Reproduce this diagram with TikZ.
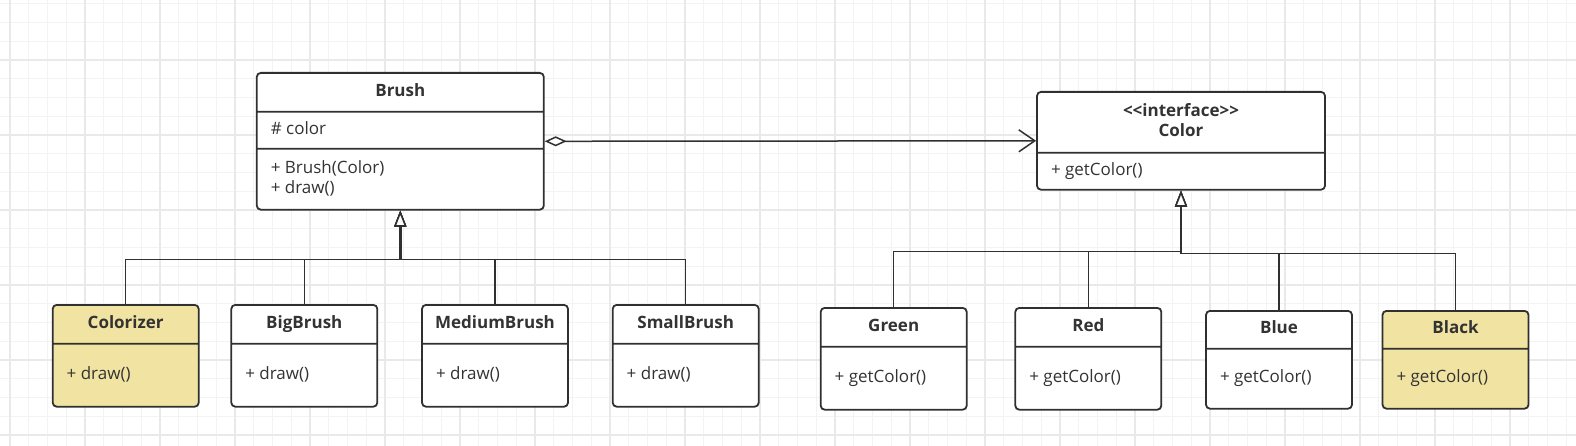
\documentclass[tikz,border=0pt]{standalone}
\usepackage{fontspec}
\setmainfont{Open Sans}
\usetikzlibrary{shapes.multipart, arrows.meta, calc}
\definecolor{linec}{RGB}{48,48,48}
\definecolor{txtc}{RGB}{51,51,51}
\definecolor{yel}{RGB}{241,227,161}
\definecolor{gridminor}{RGB}{243,243,243}
\definecolor{gridmajor}{RGB}{233,233,233}

% compartments of a class box: width, height, text
\newcommand{\ctitle}[3]{\parbox[c][#2pt][c]{#1pt}{\centering\fontsize{17}{20.4}\selectfont\bfseries\strut#3\strut}}
\newcommand{\cbody}[3]{\parbox[c][#2pt][c]{#1pt}{\raggedright\leftskip=14pt\fontsize{17}{20.4}\selectfont\strut#3\strut}}

\tikzset{
    cls/.style={rectangle split, rectangle split parts=2, draw=linec, line width=1.8pt,
        rounded corners=4pt, fill=white, inner sep=0pt, text=txtc, anchor=north},
    hl/.style={fill=yel},
    inh/.style={draw=linec, line width=1.5pt, -{Triangle[length=16pt, width=12pt, fill=white]}},
    agg/.style={draw=linec, line width=1.5pt,
        {Diamond[length=22pt, width=10pt, fill=white]}-{Straight Barb[length=16pt, width=22pt]}},
    trunk/.style={draw=linec, line width=2.6pt, shorten >=15pt}
}

\begin{document}
\begin{tikzpicture}[x=1pt, y=-1pt]
    \useasboundingbox (0,0) rectangle (1576,446);
    \fill[white] (0,0) rectangle (1576,446);

    % grid
    \foreach \x in {0,...,83}
        \draw[gridminor, line width=1pt] ({10+18.75*\x},0) -- ++(0,446);
    \foreach \y in {0,...,23}
        \draw[gridminor, line width=1pt] (0,{3.75+18.75*\y}) -- ++(1576,0);
    \foreach \x in {0,...,20}
        \draw[gridmajor, line width=1.2pt] ({10+75*\x},0) -- ++(0,446);
    \foreach \y in {0,...,5}
        \draw[gridmajor, line width=1.2pt] (0,{60+75*\y}) -- ++(1576,0);

    % classes
    \node[cls, rectangle split parts=3] (brush) at (400.3,72)
        {\ctitle{287}{37.1}{Brush}\nodepart{two}\cbody{287}{35.2}{\# color}\nodepart{three}\cbody{287}{59.1}{+ Brush(Color)\\+ draw()}};
    \node[cls] (color) at (1181,91)
        {\ctitle{288}{59.1}{<{}<interface>{}>\\Color}\nodepart{two}\cbody{288}{35.1}{+ getColor()}};

    \node[cls, hl] (colorizer) at (125.7,304) {\ctitle{146}{37.1}{Colorizer}\nodepart{two}\cbody{146}{61.1}{+ draw()}};
    \node[cls] (bigbrush) at (304.3,304) {\ctitle{146}{37.1}{BigBrush}\nodepart{two}\cbody{146}{61.1}{+ draw()}};
    \node[cls] (mediumbrush) at (495,304) {\ctitle{146}{37.1}{MediumBrush}\nodepart{two}\cbody{146}{61.1}{+ draw()}};
    \node[cls] (smallbrush) at (685.7,304) {\ctitle{146}{37.1}{SmallBrush}\nodepart{two}\cbody{146}{61.1}{+ draw()}};

    \node[cls] (green) at (893.7,307) {\ctitle{146}{37.1}{Green}\nodepart{two}\cbody{146}{61.1}{+ getColor()}};
    \node[cls] (red) at (1088.3,307) {\ctitle{146}{37.1}{Red}\nodepart{two}\cbody{146}{61.1}{+ getColor()}};
    \node[cls] (blue) at (1279,310) {\ctitle{146}{36.1}{Blue}\nodepart{two}\cbody{146}{58.1}{+ getColor()}};
    \node[cls, hl] (black) at (1455.5,310) {\ctitle{146}{36.1}{Black}\nodepart{two}\cbody{146}{58.1}{+ getColor()}};

    % aggregation
    \draw[agg] ($(brush.north east)!.5!(brush.south east)$) -- ($(color.north west)!.5!(color.south west)$);

    % inheritance
    \path (brush.south) ++(0,49) coordinate (bbus);
    \path (color.south) ++(0,61) coordinate (cbus);
    \path (color.south) ++(0,63) coordinate (cbusb);
    \draw[trunk] (bbus) -- (brush.south);
    \draw[trunk] (cbusb) -- (color.south);
    \foreach \c in {colorizer, bigbrush, mediumbrush, smallbrush}
        \draw[inh] (\c.north) |- (bbus) -- (brush.south);
    \foreach \c in {green, red}
        \draw[inh] (\c.north) |- (cbus) -- (color.south);
    \foreach \c in {blue, black}
        \draw[inh] (\c.north) |- (cbusb) -- (color.south);
\end{tikzpicture}
\end{document}
